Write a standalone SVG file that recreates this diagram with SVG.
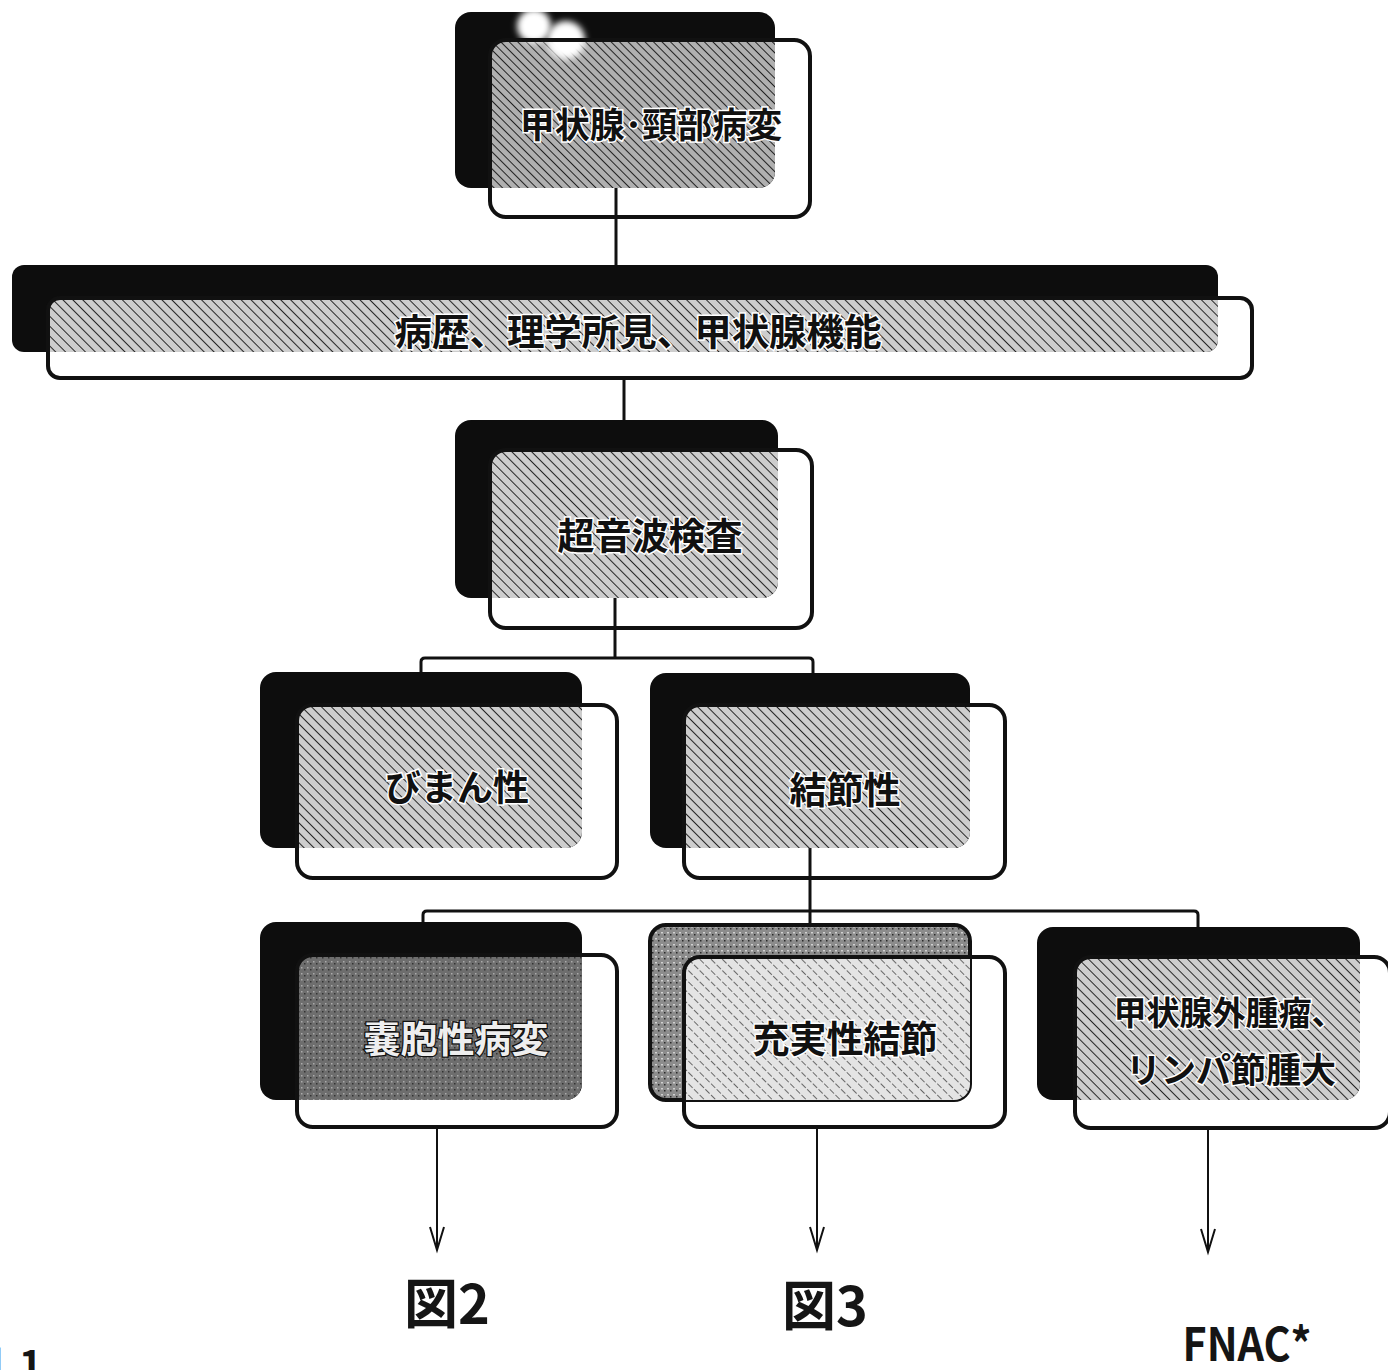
<svg xmlns="http://www.w3.org/2000/svg" width="1388" height="1370" viewBox="0 0 1388 1370">
<style>
.back{fill:#0d0d0d;}
.front{fill:none;stroke:#111;stroke-width:4;}
.conn{fill:none;stroke:#111;stroke-width:3;}
.arrow{fill:none;stroke:#111;stroke-width:2;}
.lbl{font-family:"Noto Sans CJK JP","Noto Sans",sans-serif;font-weight:bold;fill:#111;stroke:#fff;stroke-width:3;paint-order:stroke;text-anchor:middle;}
.big{font-family:"Noto Sans CJK JP","Noto Sans",sans-serif;font-weight:bold;fill:#151515;}
</style>
<defs>
<pattern id="hatch" width="7" height="7" patternUnits="userSpaceOnUse" patternTransform="rotate(-45)">
<rect width="7" height="7" fill="#cdcdcd"/>
<line x1="0" y1="0" x2="0" y2="7" stroke="#262626" stroke-width="2"/>
</pattern>
<pattern id="hatchTop" width="6" height="6" patternUnits="userSpaceOnUse" patternTransform="rotate(-45)">
<rect width="6" height="6" fill="#b0b0b0"/>
<line x1="0" y1="0" x2="0" y2="6" stroke="#222" stroke-width="2"/>
</pattern>
<pattern id="hatchLight" width="8" height="8" patternUnits="userSpaceOnUse" patternTransform="rotate(-45)">
<rect width="8" height="8" fill="#e4e4e4"/>
<line x1="0" y1="0" x2="0" y2="8" stroke="#333" stroke-width="1.4" stroke-dasharray="3 2"/>
</pattern>
<pattern id="speckDark" width="6" height="6" patternUnits="userSpaceOnUse">
<rect width="6" height="6" fill="#6e6e6e"/>
<rect x="1" y="1" width="1.5" height="1.5" fill="#aaa"/>
<rect x="4" y="3" width="1.5" height="1.5" fill="#333"/>
</pattern>
<pattern id="speckMid" width="6" height="6" patternUnits="userSpaceOnUse">
<rect width="6" height="6" fill="#8c8c8c"/>
<rect x="1" y="2" width="2" height="1.5" fill="#d0d0d0"/>
<rect x="4" y="4" width="1.5" height="1.5" fill="#2a2a2a"/>
</pattern>
<clipPath id="cTop"><rect x="455" y="12" width="320" height="176" rx="16"/></clipPath>
<clipPath id="cBar"><rect x="12" y="265" width="1206" height="87" rx="12"/></clipPath>
<clipPath id="cUs"><rect x="455" y="420" width="323" height="178" rx="16"/></clipPath>
<clipPath id="cDif"><rect x="260" y="672" width="322" height="176" rx="16"/></clipPath>
<clipPath id="cNod"><rect x="650" y="673" width="320" height="175" rx="16"/></clipPath>
<clipPath id="cCys"><rect x="260" y="922" width="322" height="178" rx="16"/></clipPath>
<clipPath id="cSol"><rect x="650" y="925" width="320" height="175" rx="16"/></clipPath>
<clipPath id="cExt"><rect x="1037" y="927" width="323" height="173" rx="16"/></clipPath>
<filter id="blur" x="-50%" y="-50%" width="200%" height="200%"><feGaussianBlur stdDeviation="3"/></filter>
<marker id="vhead" markerWidth="20" markerHeight="30" refX="8" refY="24" orient="0" markerUnits="userSpaceOnUse">
<polyline points="1,1 8,24 15,1" fill="none" stroke="#111" stroke-width="2"/>
</marker>
</defs>
<rect width="1388" height="1370" fill="#fff"/>

<g id="connectors">
<line class="conn" x1="616" y1="188" x2="616" y2="267"/>
<line class="conn" x1="624" y1="378" x2="624" y2="462"/>
<line class="conn" x1="615" y1="598" x2="615" y2="658"/>
<path class="conn" d="M421,676 V662 Q421,658 425,658 H809 Q813,658 813,662 V678"/>
<line class="conn" x1="810" y1="848" x2="810" y2="928"/>
<path class="conn" d="M423,925 V915 Q423,911 427,911 H1194 Q1198,911 1198,915 V930"/>
<line class="arrow" x1="437" y1="1127" x2="437" y2="1250" marker-end="url(#vhead)"/>
<line class="arrow" x1="817" y1="1127" x2="817" y2="1250" marker-end="url(#vhead)"/>
<line class="arrow" x1="1208" y1="1130" x2="1208" y2="1252" marker-end="url(#vhead)"/>
</g>

<g id="node-thyroid-neck">
<rect class="back" x="455" y="12" width="320" height="176" rx="16"/>
<rect x="490" y="40" width="320" height="177" rx="16" fill="url(#hatchTop)" clip-path="url(#cTop)"/>
<circle cx="534" cy="26" r="17" fill="#fff" filter="url(#blur)"/>
<circle cx="566" cy="40" r="19" fill="#fff" filter="url(#blur)"/>
<rect class="front" x="490" y="40" width="320" height="177" rx="16"/>
<text class="lbl" x="651" y="138" font-size="35">甲状腺･頸部病変</text>
</g>

<g id="node-history">
<rect class="back" x="12" y="265" width="1206" height="87" rx="12"/>
<rect x="48" y="298" width="1204" height="80" rx="12" fill="url(#hatch)" clip-path="url(#cBar)"/>
<rect class="front" x="48" y="298" width="1204" height="80" rx="12"/>
<text class="lbl" x="638" y="346" font-size="37" textLength="487" lengthAdjust="spacingAndGlyphs">病歴、理学所見、甲状腺機能</text>
</g>

<g id="node-ultrasound">
<rect class="back" x="455" y="420" width="323" height="178" rx="16"/>
<rect x="490" y="450" width="322" height="178" rx="16" fill="url(#hatch)" clip-path="url(#cUs)"/>
<rect class="front" x="490" y="450" width="322" height="178" rx="16"/>
<text class="lbl" x="650" y="550" font-size="37">超音波検査</text>
</g>

<g id="node-diffuse">
<rect class="back" x="260" y="672" width="322" height="176" rx="16"/>
<rect x="297" y="705" width="320" height="173" rx="16" fill="url(#hatch)" clip-path="url(#cDif)"/>
<rect class="front" x="297" y="705" width="320" height="173" rx="16"/>
<text class="lbl" x="457" y="801" font-size="36">びまん性</text>
</g>

<g id="node-nodular">
<rect class="back" x="650" y="673" width="320" height="175" rx="16"/>
<rect x="684" y="705" width="321" height="173" rx="16" fill="url(#hatch)" clip-path="url(#cNod)"/>
<rect class="front" x="684" y="705" width="321" height="173" rx="16"/>
<text class="lbl" x="845" y="804" font-size="37">結節性</text>
</g>

<g id="node-cystic">
<rect class="back" x="260" y="922" width="322" height="178" rx="16"/>
<rect x="297" y="955" width="320" height="172" rx="16" fill="url(#speckDark)" clip-path="url(#cCys)"/>
<rect class="front" x="297" y="955" width="320" height="172" rx="16"/>
<text class="lbl" x="456" y="1053" font-size="37" style="fill:#eee;stroke:#111;stroke-width:2.5">嚢胞性病変</text>
</g>

<g id="node-solid">
<rect x="650" y="925" width="320" height="175" rx="16" fill="url(#speckMid)" stroke="#111" stroke-width="4"/>
<rect x="684" y="957" width="321" height="170" rx="16" fill="url(#hatchLight)" clip-path="url(#cSol)"/>
<rect class="front" x="684" y="957" width="321" height="170" rx="16"/>
<text class="lbl" x="845" y="1053" font-size="37">充実性結節</text>
</g>

<g id="node-extrathyroid">
<rect class="back" x="1037" y="927" width="323" height="173" rx="16"/>
<rect x="1075" y="957" width="315" height="171" rx="16" fill="url(#hatch)" clip-path="url(#cExt)"/>
<rect class="front" x="1075" y="957" width="315" height="171" rx="16"/>
<text class="lbl" x="1229" y="1025" font-size="33">甲状腺外腫瘤、</text>
<text class="lbl" x="1231" y="1083" font-size="35">リンパ節腫大</text>
</g>

<g id="labels">
<text class="big" x="447" y="1324" font-size="54" text-anchor="middle">図2</text>
<text class="big" x="825" y="1326" font-size="54" text-anchor="middle">図3</text>
<text class="big" x="1247" y="1361" font-size="46" text-anchor="middle" textLength="129" lengthAdjust="spacingAndGlyphs">FNAC*</text>
<text class="big" y="1380" font-size="40"><tspan x="-37">図</tspan><tspan x="19">1</tspan></text>
</g>
</svg>
